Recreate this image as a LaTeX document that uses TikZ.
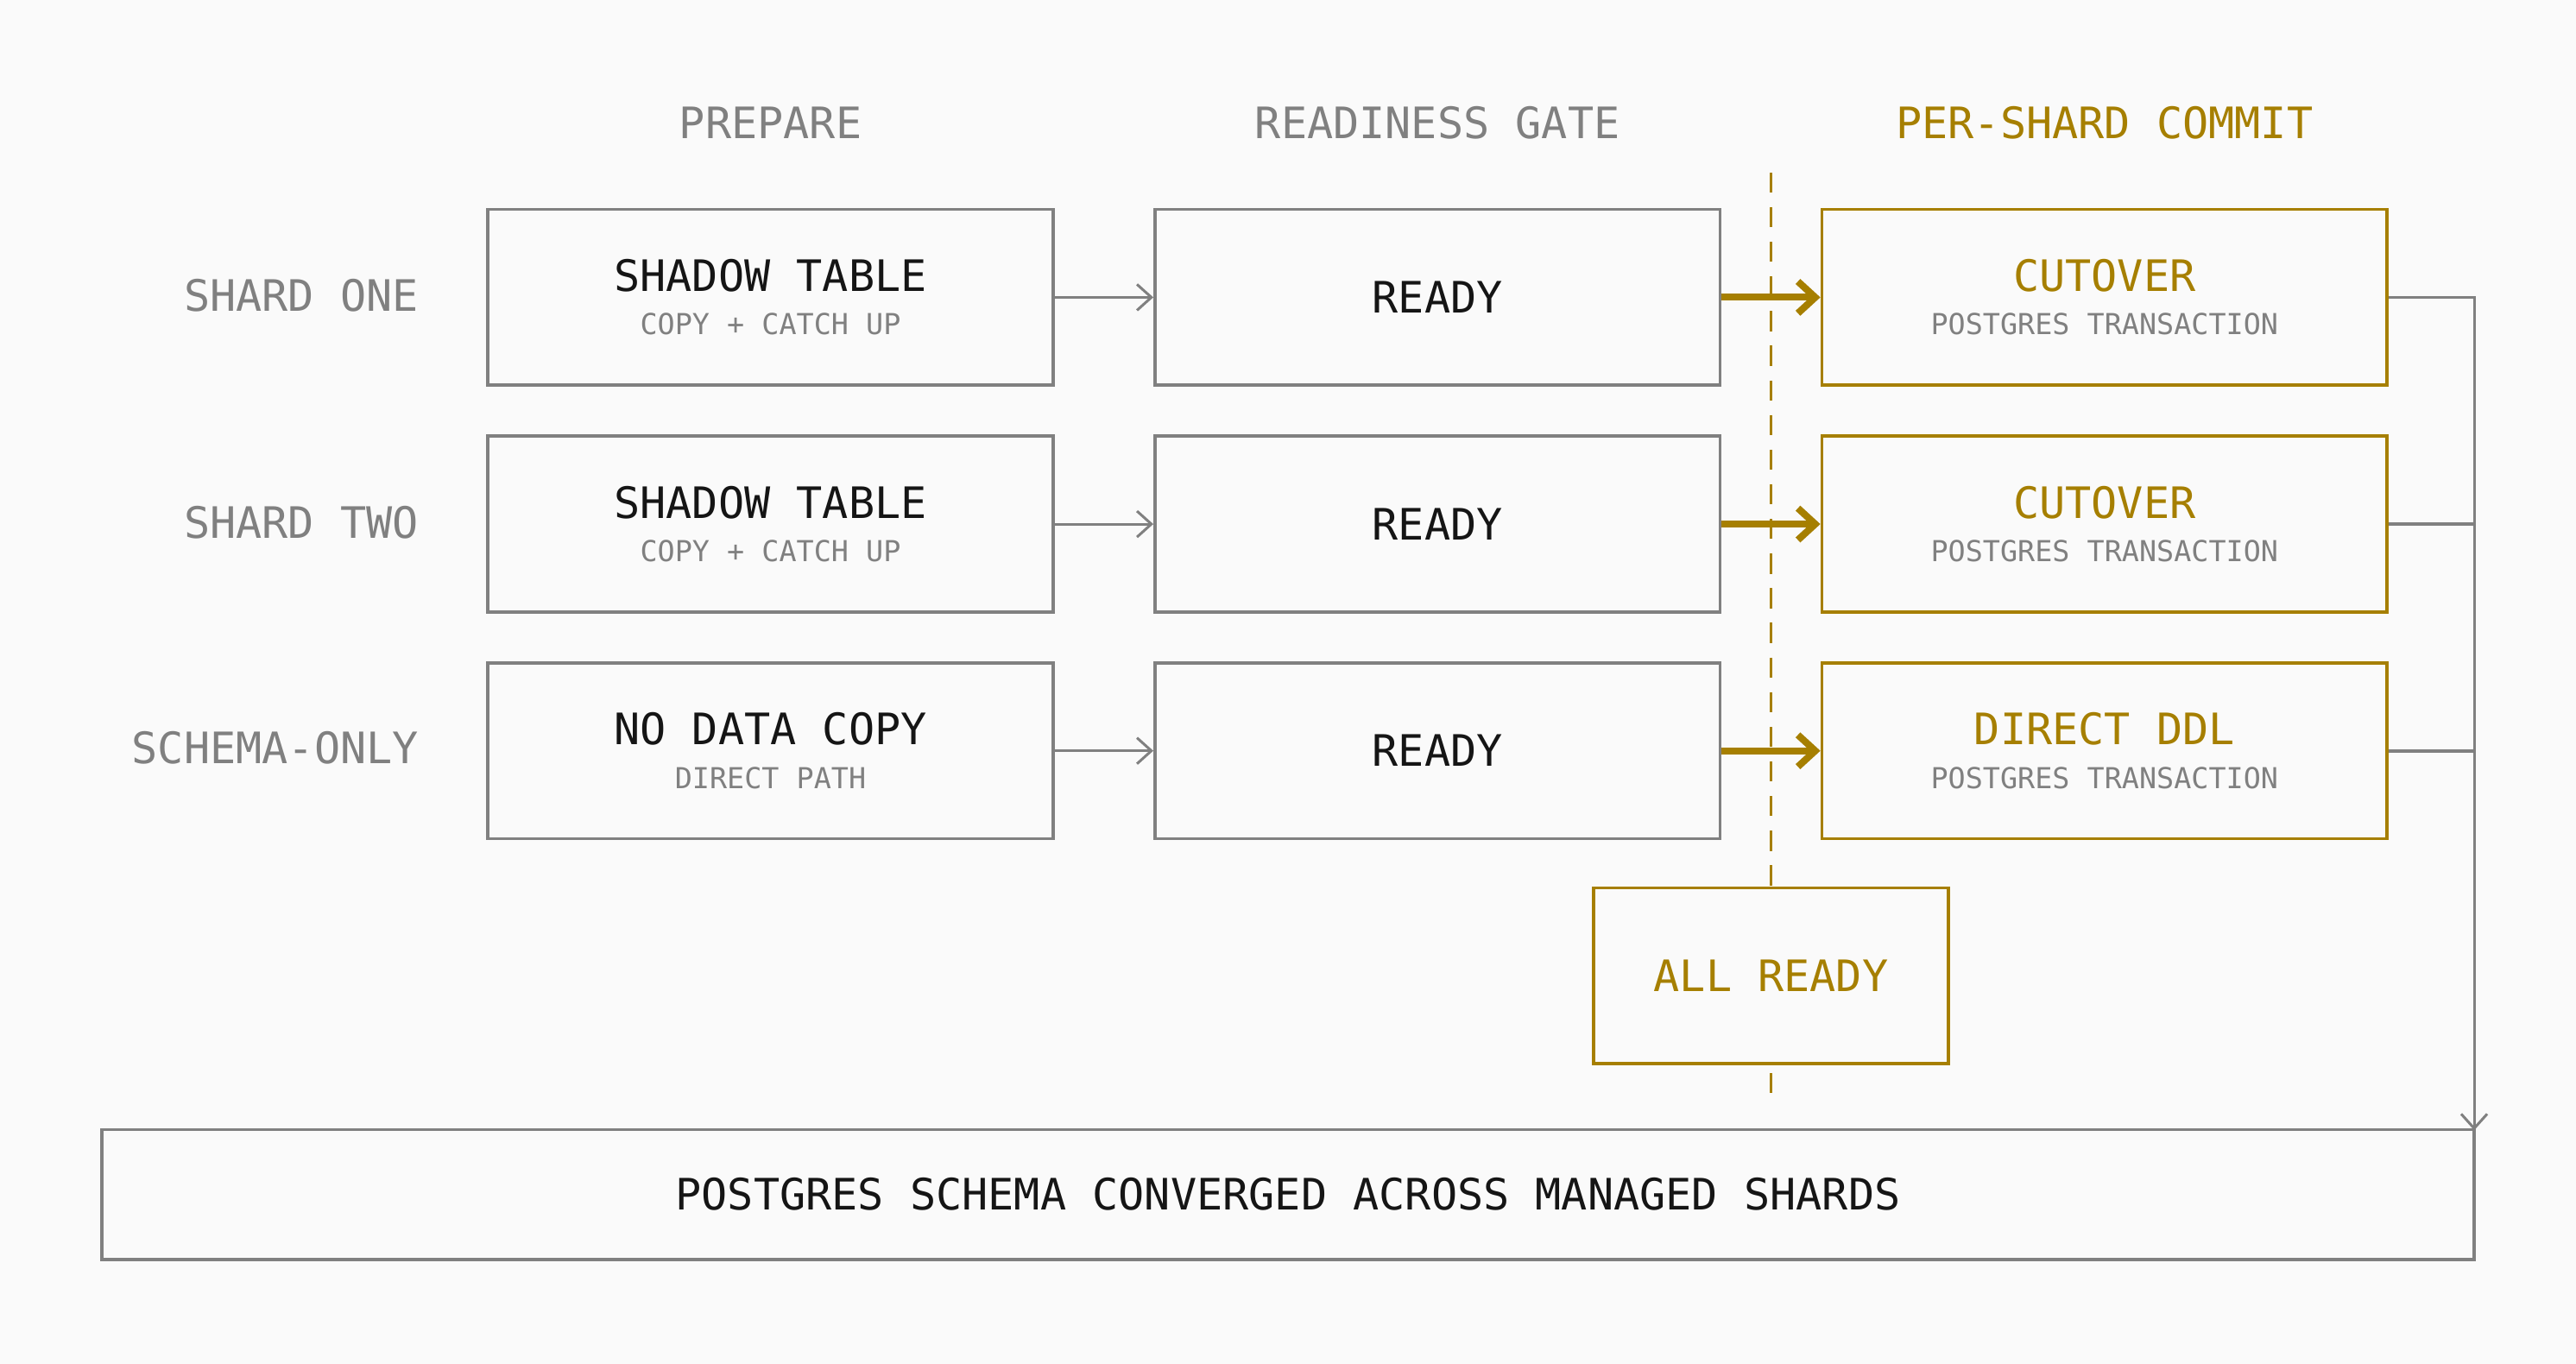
\documentclass[tikz,border=0pt]{standalone}
\usepackage{fontspec}
\setmainfont{DejaVu Sans Mono}
\usetikzlibrary{arrows.meta,positioning}
\definecolor{bg}{HTML}{FAFAFA}
\definecolor{grayline}{HTML}{808080}
\definecolor{gold}{HTML}{A67F00}
\definecolor{ink}{HTML}{151515}
\tikzset{
  box/.style={draw=grayline,line width=1.1pt,minimum width=344*0.02cm,minimum height=107*0.02cm,align=center,inner sep=0pt},
  goldbox/.style={box,draw=gold},
  head/.style={font=\fontsize{15}{18}\selectfont,text=grayline},
  main/.style={font=\fontsize{15}{18}\selectfont,text=ink},
  sub/.style={font=\fontsize{10}{12}\selectfont,text=grayline},
  garrow/.style={draw=grayline,line width=0.9pt,-{Straight Barb[length=5pt,width=9pt]}},
  karrow/.style={draw=gold,line width=2.4pt,-{Straight Barb[length=6pt,width=11pt]}}
}
\newcommand{\twoline}[3]{{\fontsize{15}{18}\selectfont\color{#3}#1}\\[3pt]{\fontsize{10}{12}\selectfont\color{grayline}#2}}
\begin{document}
\begin{tikzpicture}[x=0.02cm,y=-0.02cm]
\fill[bg] (0,0) rectangle (1568,830);
\useasboundingbox (0,0) rectangle (1568,830);
% column headers
\node[head] (hprep) at (469,75) {PREPARE};
\node[head] (hgate) at (875,75) {READINESS GATE};
\node[head,text=gold] (hcommit) at (1281,75) {PER-SHARD COMMIT};
% gate line
\draw[gold,line width=1.1pt,dash pattern=on 7pt off 5pt] (1078,105) -- (1078,670);
% row labels
\node[head,anchor=east] (lone) at (261,180) {SHARD ONE};
\node[head,anchor=east] (ltwo) at (261,318) {SHARD TWO};
\node[head,anchor=east] (lschema) at (261,455) {SCHEMA-ONLY};
% prepare
\node[box,fill=bg] (pone) at (469,181) {\twoline{SHADOW TABLE}{COPY + CATCH UP}{ink}};
\node[box,fill=bg] (ptwo) at (469,319) {\twoline{SHADOW TABLE}{COPY + CATCH UP}{ink}};
\node[box,fill=bg] (pschema) at (469,457) {\twoline{NO DATA COPY}{DIRECT PATH}{ink}};
% readiness gate
\node[box,fill=bg,main] (gone) at (875,181) {READY};
\node[box,fill=bg,main] (gtwo) at (875,319) {READY};
\node[box,fill=bg,main] (gschema) at (875,457) {READY};
% commit
\node[goldbox,fill=bg] (cone) at (1281,181) {\twoline{CUTOVER}{POSTGRES TRANSACTION}{gold}};
\node[goldbox,fill=bg] (ctwo) at (1281,319) {\twoline{CUTOVER}{POSTGRES TRANSACTION}{gold}};
\node[goldbox,fill=bg] (cschema) at (1281,457) {\twoline{DIRECT DDL}{POSTGRES TRANSACTION}{gold}};
% all ready
\node[goldbox,fill=bg,minimum width=216*0.02cm,minimum height=107*0.02cm,main,text=gold] (allready) at (1078,594) {ALL READY};
% result
\node[box,minimum width=1444*0.02cm,minimum height=79*0.02cm,main] (result) at (784,727) {POSTGRES SCHEMA CONVERGED ACROSS MANAGED SHARDS};
\coordinate (join) at (1506,688);
% connectors
\foreach \r in {one,two,schema}{
  \draw[garrow] (p\r) -- (g\r);
  \draw[karrow] (g\r) -- (c\r);
}
\draw[grayline,line width=1.1pt] (ctwo.east) -- (ctwo.east -| join);
\draw[grayline,line width=1.1pt] (cschema.east) -- (cschema.east -| join);
\draw[garrow] (cone.east) -| (join);
\end{tikzpicture}
\end{document}
